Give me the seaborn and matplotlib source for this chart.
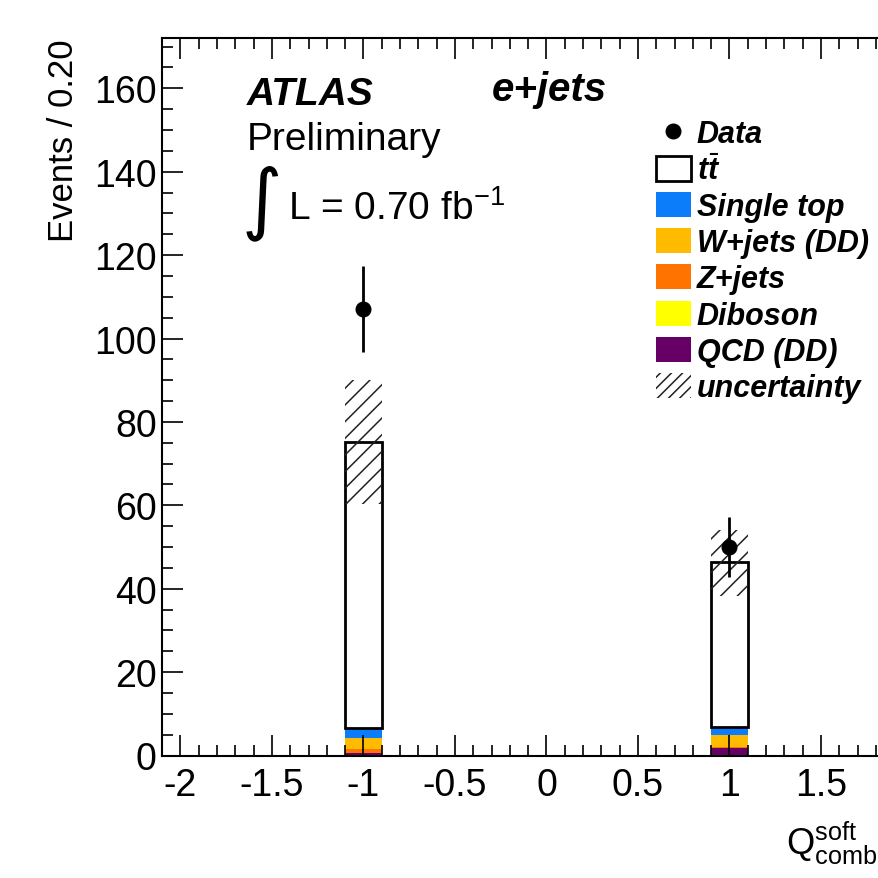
import numpy as np
import pandas as pd
import matplotlib
matplotlib.use("Agg")
import matplotlib.pyplot as plt
import seaborn as sns
from matplotlib.patches import Patch
from matplotlib.lines import Line2D
from matplotlib.ticker import MultipleLocator

# ---------------- data ----------------
bin_centers = [-1.0, 1.0]
bin_edges = [-1.1, -0.9, 0.9, 1.1]
processes = ["ttbar", "Single top", "W+jets (DD)", "Z+jets", "Diboson", "QCD (DD)"]
ttbar = [68.6, 39.6]
single_top = [2.4, 2.0]
wjets = [2.7, 2.8]
zjets = [0.8, 0.2]
diboson = [0.1, 0.1]
qcd = [0.6, 1.8]
unc_low = [60.4, 38.2]
unc_high = [90.0, 54.0]
data_y = [107, 50]
data_err = [10.3, 7.1]
colors = ["#ffffff", "#0b7dfb", "#ffbb00", "#ff7300", "#ffff00", "#660066"]
legend_labels = ["Data", r"$t\bar{t}$", "Single top", "W+jets (DD)", "Z+jets",
                 "Diboson", "QCD (DD)", "uncertainty"]
xtick_values = [-2, -1.5, -1, -0.5, 0, 0.5, 1, 1.5, 2]
xtick_labels = ["-2", "-1.5", "-1", "-0.5", "0", "0.5", "1", "1.5", ""]

# ---------------- style ----------------
sns.set_style("ticks")
plt.rcParams["font.family"] = ["Liberation Sans", "DejaVu Sans"]
plt.rcParams["mathtext.fontset"] = "custom"
plt.rcParams["mathtext.rm"] = "Liberation Sans"
plt.rcParams["mathtext.it"] = "Liberation Sans:italic:bold"
plt.rcParams["mathtext.bf"] = "Liberation Sans:bold"
plt.rcParams["hatch.linewidth"] = 1.1
for k in ["text.color", "axes.labelcolor", "xtick.color", "ytick.color", "axes.edgecolor"]:
    plt.rcParams[k] = "black"

W = H = 879
fig = plt.figure(figsize=(W / 100, H / 100), dpi=100)
ax_left, ax_right, ax_top, ax_bottom = 162.2, 930.8, 39.3, 756.5
ax = fig.add_axes([ax_left / W, 1 - ax_bottom / H, (ax_right - ax_left) / W, (ax_bottom - ax_top) / H])

values = [ttbar, single_top, wjets, zjets, diboson, qcd]
rows = []
for proc, vals in zip(processes, values):
    for xc, v in zip(bin_centers, vals):
        rows.append({"x": xc, "w": v, "process": proc})
df = pd.DataFrame(rows)

sns.histplot(df, x="x", weights="w", hue="process", hue_order=processes,
             multiple="stack", bins=bin_edges, palette=dict(zip(processes, colors)),
             linewidth=0, alpha=1, legend=False, ax=ax, zorder=1)

for p in ax.patches:
    fc = p.get_facecolor()
    if fc[0] > 0.99 and fc[1] > 0.99 and fc[2] > 0.99 and p.get_height() > 0:
        p.set_edgecolor("black")
        p.set_linewidth(2.0)
        p.set_zorder(1.05)

ax.bar(bin_centers, np.subtract(unc_high, unc_low), bottom=unc_low, width=0.2,
       facecolor="none", edgecolor="#222222", hatch="//", linewidth=0, zorder=1.1)

ax.errorbar(bin_centers, data_y, yerr=data_err, fmt="o", color="black",
            markersize=10.5, elinewidth=2.0, capsize=0, zorder=3)

ax.set_xlim(-2.1, 2.1)
ax.set_ylim(0, 172)
ax.set_xticks(xtick_values)
ax.set_xticklabels(xtick_labels)
ax.xaxis.set_minor_locator(MultipleLocator(0.1))
ax.yaxis.set_major_locator(MultipleLocator(20))
ax.yaxis.set_minor_locator(MultipleLocator(5))
ax.set_axisbelow(False)
ax.tick_params(which="both", direction="in", top=True, right=True, width=1.2, color="black")
ax.tick_params(which="major", length=15)
ax.tick_params(which="minor", length=7.7)
ax.tick_params(axis="x", labelsize=27, pad=8)
ax.tick_params(axis="y", labelsize=27, pad=4)
for s in ax.spines.values():
    s.set_linewidth(1.5)
    s.set_color("black")

ax.set_ylabel("Events / 0.20", fontsize=25, loc="top")
ax.yaxis.set_label_coords(-0.107, 1.0)
ax.set_xlabel(r"$\mathrm{Q}^{\mathrm{soft}}_{\mathrm{comb}}$", fontsize=26, ha="left", va="baseline")
ax.xaxis.set_label_coords((786 - ax_left) / (ax_right - ax_left), -(855 - ax_bottom) / (ax_bottom - ax_top))

fig.text(247 / W, 1 - 105 / H, "ATLAS", fontsize=28, fontweight="bold", fontstyle="italic", va="baseline")
fig.text(492 / W, 1 - 101 / H, "e+jets", fontsize=29, fontweight="bold", fontstyle="italic", va="baseline")
fig.text(247 / W, 1 - 150 / H, "Preliminary", fontsize=28, va="baseline")
fig.text(242 / W, 1 - 203 / H, "\u222b", fontsize=56, va="center", family=["DejaVu Sans"])
fig.text(288 / W, 1 - 220 / H, r"L = 0.70 fb$^{-1}$", fontsize=28, va="baseline")

handles = [Line2D([], [], marker="o", color="black", linestyle="none", markersize=10.5),
           Patch(facecolor="white", edgecolor="black", linewidth=2)]
for c in colors[1:]:
    handles.append(Patch(facecolor=c, edgecolor="none"))
handles.append(Patch(facecolor="white", edgecolor="#222222", hatch="///", linewidth=0))

fig.legend(handles, legend_labels, loc="upper left", bbox_to_anchor=(656 / W, 1 - 120 / H),
           frameon=False, borderpad=0, borderaxespad=0, handlelength=1.14, handleheight=0.88,
           handletextpad=0.2, labelspacing=0.2,
           prop={"family": "Liberation Sans", "weight": "bold", "style": "italic", "size": 22})

fig.savefig("out.png", dpi=100)
